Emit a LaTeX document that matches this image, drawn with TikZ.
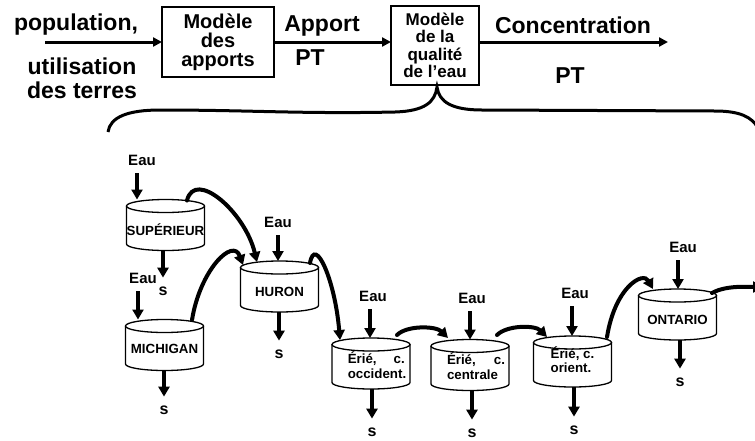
\documentclass[tikz,border=0pt]{standalone}
\usepackage{fontspec}
\setmainfont{Liberation Sans}
\usetikzlibrary{arrows.meta,calc}
\begin{document}
\begin{tikzpicture}[x=1pt,y=-1pt,
  every node/.style={inner sep=0pt,outer sep=0pt},
  toplabel/.style={font=\bfseries\fontsize{23}{27}\selectfont,anchor=base},
  modelone/.style={draw,line width=2.5pt,align=center,font=\bfseries\fontsize{20}{19}\selectfont,minimum width=112pt,minimum height=70pt},
  modeltwo/.style={draw,line width=2.5pt,align=center,font=\bfseries\fontsize{17}{17.5}\selectfont,minimum width=88pt,minimum height=79pt},
  flow/.style={line width=3pt,-{Triangle[length=9pt,width=9pt]}},
  lake/.style={minimum width=78pt,minimum height=51pt,align=left,font=\bfseries\fontsize{13.3}{15}\selectfont},
  lakeline/.style={line width=1.3pt},
  eaulabel/.style={font=\bfseries\fontsize{15}{17}\selectfont},
  slabel/.style={font=\bfseries\fontsize{16}{17}\selectfont},
  vflow/.style={line width=4pt,-{Triangle[length=10pt,width=11pt]}},
  cflow/.style={line width=4pt,line cap=round,-{Triangle[length=10pt,width=11pt]}},
  bracestyle/.style={line width=3pt}
]
\useasboundingbox (0,0) rectangle (755,440);

% ---------- top row ----------
\node[toplabel] (pop) at (76,30) {population,};
\node[toplabel] (util) at (82,74) {utilisation};
\node[toplabel] (terres) at (82,98) {des terres};
\coordinate (inflow) at (45,42);
\node[modelone] (m1) at (218,42) {Modèle\\des\\apports};
\node[modeltwo] (m2) at (435,45.5) {Modèle\\de la\\qualité\\de l’eau};
\node[toplabel] (apport) at (322,31) {Apport};
\node[toplabel] (pt1) at (310,65) {PT};
\node[toplabel] (conc) at (573,33) {Concentration};
\node[toplabel] (pt2) at (570,83) {PT};
\coordinate (outflow) at (668,42);

\draw[flow] (inflow) -- (inflow -| m1.west);
\draw[flow] (m1.east |- inflow) -- (inflow -| m2.west);
\draw[flow] (m2.east |- outflow) -- (outflow);

% ---------- brace ----------
\draw[bracestyle] (108,132) .. controls (110,117) and (128,110) .. (160,110)
  .. controls (250,110) and (300,114) .. (395,112)
  .. controls (425,111) and (435,102) .. (437,87)
  .. controls (439,102) and (452,110) .. (482,110)
  -- (715,111) .. controls (740,111) and (752,117) .. (758,128);

% ---------- lakes ----------
\node[lake] (sup) at (165.5,225) {\raisebox{-4.5pt}[\height][\depth]{SUPÉRIEUR}};
\node[lake] (mich) at (164.5,345) {\raisebox{-3.5pt}[\height][\depth]{MICHIGAN}};
\node[lake] (hur) at (279.5,286.5) {\raisebox{-5pt}[\height][\depth]{HURON}};
\node[lake] (erw) at (371,363.5) {\raisebox{-4pt}[\height][\depth]{\hspace{12pt}\begin{tabular}{@{}l@{}}\makebox[57pt][s]{Érié,\hfill c.}\\occident.\end{tabular}}};
\node[lake] (erc) at (470,365) {\raisebox{-3.5pt}[\height][\depth]{\hspace{12pt}\begin{tabular}{@{}l@{}}\makebox[58pt][s]{Érié,\hfill c.}\\centrale\end{tabular}}};
\node[lake] (ere) at (572.5,361.5) {\fontsize{13.3}{13}\selectfont\raisebox{0pt}[\height][\depth]{\begin{tabular}{@{}l@{}}Érié, c.\\orient.\end{tabular}}};
\node[lake] (ont) at (677.5,314.5) {\raisebox{-5pt}[\height][\depth]{ONTARIO}};

\foreach \n in {sup,mich,hur,erw,erc,ere,ont}{
  \draw[lakeline] ([yshift=-6.5pt]\n.north west) -- ([yshift=6.5pt]\n.south west)
     arc[start angle=180,end angle=360,x radius=39pt,y radius=6.5pt]
     -- ([yshift=-6.5pt]\n.north east);
  \draw[lakeline] ([yshift=-6.5pt]\n.north) ellipse[x radius=39pt,y radius=6.5pt];
}

% ---------- water inputs ----------
\node[eaulabel] (e1) at (142,160) {Eau};
\node[eaulabel] (e2) at (143,278) {Eau};
\node[eaulabel] (e3) at (278,222) {Eau};
\node[eaulabel] (e4) at (373,296) {Eau};
\node[eaulabel] (e5) at (472,298) {Eau};
\node[eaulabel] (e6) at (575,293) {Eau};
\node[eaulabel] (e7) at (683,247) {Eau};

\draw[vflow] ([xshift=-5pt,yshift=-8pt]e1.south) -- ([xshift=-5pt]e1.south |- sup.north);
\draw[vflow] ([xshift=-5pt,yshift=-8pt]e2.south) -- ([xshift=-5pt]e2.south |- mich.north);
\draw[vflow] ([yshift=-8pt]e3.south) -- (e3.south |- hur.north);
\draw[vflow] ([xshift=-3pt,yshift=-8pt]e4.south) -- ([xshift=-3pt]e4.south |- erw.north);
\draw[vflow] ([xshift=-2pt,yshift=-8pt]e5.south) -- ([xshift=-2pt]e5.south |- erc.north);
\draw[vflow] ([xshift=-3pt,yshift=-8pt]e6.south) -- ([xshift=-3pt]e6.south |- ere.north);
\draw[vflow] ([xshift=-5pt,yshift=-8pt]e7.south) -- ([xshift=-5pt]e7.south |- ont.north);

% ---------- outputs ----------
\node[slabel] (s1) at (163,291) {s};
\node[slabel] (s2) at (164,410) {s};
\node[slabel] (s3) at (279,354) {s};
\node[slabel] (s4) at (372,432) {s};
\node[slabel] (s5) at (472,433) {s};
\node[slabel] (s6) at (574,430) {s};
\node[slabel] (s7) at (680,382) {s};

\draw[vflow] (s1 |- sup.south) -- ([yshift=9pt]s1.north);
\draw[vflow] (s2 |- mich.south) -- ([yshift=9pt]s2.north);
\draw[vflow] (s3 |- hur.south) -- ([yshift=9pt]s3.north);
\draw[vflow] (s4 |- erw.south) -- ([yshift=9pt]s4.north);
\draw[vflow] (s5 |- erc.south) -- ([yshift=9pt]s5.north);
\draw[vflow] (s6 |- ere.south) -- ([yshift=9pt]s6.north);
\draw[vflow] (s7 |- ont.south) -- ([yshift=9pt]s7.north);

% ---------- lake-to-lake flows ----------
\coordinate (outlet) at (763,287);
\draw[cflow] ($(sup.north)+(21.5,1)$) .. controls +(8,-32) and +(-12,-50) .. ($(hur.north)+(-22.5,1)$);
\draw[cflow] ($(mich.north)+(27.5,0.5)$) .. controls +(8,-50) and +(-10,-28) .. ($(hur.north)+(-36.5,4)$);
\draw[cflow] ($(hur.north)+(30.5,2)$) .. controls +(5,-28) and +(-5,-60) .. ($(erw.north)+(-31,2)$);
\draw[cflow] ($(erw.north)+(26,-3)$) .. controls +(10,-10) and +(-12,-12) .. ($(erc.north)+(-22,-1.5)$);
\draw[cflow] ($(erc.north)+(27,-4.5)$) .. controls +(10,-10) and +(-12,-12) .. ($(ere.north)+(-25.5,1)$);
\draw[cflow] ($(ere.north)+(34.5,1)$) .. controls +(8,-50) and +(-10,-18) .. ($(ont.north)+(-24.5,0)$);
\draw[cflow] ($(ont.north)+(34.5,4)$) .. controls +(14,-8) and +(-14,0) .. (outlet);
\end{tikzpicture}
\end{document}
